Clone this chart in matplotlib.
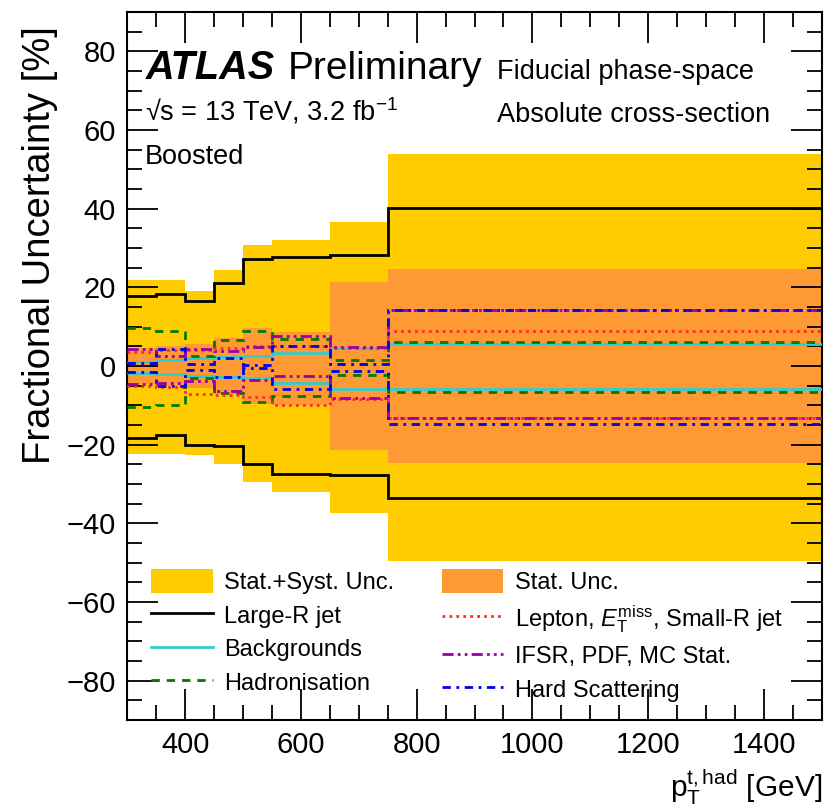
#Incertidumbre fraccional por fuente en funcion del pT del top hadronico
#librerias necesarias
import matplotlib
matplotlib.use("Agg")
import matplotlib.pyplot as plt #para graficar
from matplotlib.lines import Line2D
from matplotlib.patches import Patch
from matplotlib.ticker import MultipleLocator

#bordes de los bins en pT [GeV]
bordes = [300, 350, 400, 450, 500, 550, 650, 750, 1500]

#incertidumbre total (estadistica + sistematica) [%]
total_arriba = [21.8, 21.8, 19.1, 24.4, 30.8, 32.1, 36.5, 53.8]
total_abajo = [-22.3, -22.3, -22.7, -25.0, -29.5, -32.1, -37.5, -49.7]

#incertidumbre estadistica [%]
stat_arriba = [4.5, 5.0, 5.5, 7.2, 9.7, 8.6, 21.4, 24.7]
stat_abajo = [-4.5, -5.0, -5.5, -7.2, -9.7, -9.9, -21.4, -24.7]

#fuentes sistematicas, arriba y abajo [%]
largeR_arriba = [17.9, 18.3, 16.6, 21.1, 27.2, 27.7, 28.2, 40.3]
largeR_abajo = [-18.2, -17.6, -20.1, -20.4, -24.9, -27.5, -27.7, -33.5]
fondos_arriba = [0.9, 1.5, 2.1, 2.3, 2.6, 3.4, 4.6, 5.6]
fondos_abajo = [-1.8, -2.0, -2.6, -2.8, -3.1, -4.3, -5.8, -5.8]
hadron_arriba = [9.7, 9.0, 2.5, 6.5, 8.8, 6.8, 1.5, 6.2]
hadron_abajo = [-10.3, -9.8, -3.0, -6.9, -9.2, -7.5, -2.3, -6.5]
lepton_arriba = [3.6, 4.0, 4.0, 4.6, 5.1, 5.0, 4.6, 8.9]
lepton_abajo = [-5.2, -5.4, -7.1, -7.3, -7.9, -9.8, -8.3, -13.3]
ifsr_arriba = [4.3, 2.5, 4.3, 3.8, 4.9, 7.6, 4.8, 14.2]
ifsr_abajo = [-4.6, -4.2, -3.7, -6.3, -3.6, -2.6, -8.1, -13.3]
hard_arriba = [0.8, 4.4, 0.5, 2.0, 0.2, 5.0, 0.6, 14.2]
hard_abajo = [-1.5, -5.1, -1.0, -2.8, -0.4, -5.8, -1.2, -14.7]

#colores estilo ATLAS
amarillo = '#ffcc00'
naranja = '#ff9933'

def graficar():
    plt.rcParams['font.family'] = ['Liberation Sans', 'DejaVu Sans']
    plt.rcParams['mathtext.fontset'] = 'custom'
    plt.rcParams['mathtext.rm'] = 'Liberation Sans'
    plt.rcParams['mathtext.it'] = 'Liberation Sans:italic'
    plt.rcParams['mathtext.bf'] = 'Liberation Sans:bold'

    fig = plt.figure(figsize=(8.26, 8.08), dpi=100) #tamaño de la figura
    ax = fig.add_axes([0.154, 0.109, 0.841, 0.876])

    #bandas de incertidumbre
    ax.stairs(total_arriba, bordes, baseline=total_abajo, fill=True, color=amarillo, lw=0, zorder=1)
    ax.stairs(stat_arriba, bordes, baseline=stat_abajo, fill=True, color=naranja, lw=0, zorder=2)

    #lineas de cada fuente (arriba y abajo)
    estilos = [
        (largeR_arriba, largeR_abajo, dict(color='black', lw=2.0, ls='-')),
        (fondos_arriba, fondos_abajo, dict(color='#33cccc', lw=2.0, ls='-')),
        (hadron_arriba, hadron_abajo, dict(color='#007a00', lw=2.0, ls=(0, (3, 2.5)))),
        (lepton_arriba, lepton_abajo, dict(color='#ff2a2a', lw=2.0, ls=(0, (1, 1.5)))),
        (ifsr_arriba, ifsr_abajo, dict(color='#9900aa', lw=2.0, ls=(0, (4, 1.5, 1, 1.5, 1, 1.5)))),
        (hard_arriba, hard_abajo, dict(color='#0000ee', lw=2.0, ls=(0, (3, 2, 1, 2)))),
    ]
    z = 3
    for arriba, abajo, kw in estilos:
        ax.stairs(arriba, bordes, baseline=None, zorder=z, **kw)
        ax.stairs(abajo, bordes, baseline=None, zorder=z, **kw)
        z += 1

    #ejes
    ax.set_xlim(300, 1500)
    ax.set_ylim(-90, 90)
    ax.xaxis.set_major_locator(MultipleLocator(200))
    ax.xaxis.set_minor_locator(MultipleLocator(50))
    ax.yaxis.set_major_locator(MultipleLocator(20))
    ax.yaxis.set_minor_locator(MultipleLocator(5))
    ax.tick_params(which='both', direction='in', top=True, right=True, width=1.3, labelsize=21)
    ax.tick_params(which='major', length=22, pad=8)
    ax.tick_params(which='minor', length=11)
    for lado in ax.spines.values():
        lado.set_linewidth(1.5)
    ax.set_axisbelow(False)

    #titulos de los ejes
    fig.text(0.048, 0.697, 'Fractional Uncertainty [%]', rotation=90, fontsize=27.5, ha='center', va='center')
    ax.set_xlabel(r'$\mathrm{p}_{\mathrm{T}}^{\mathrm{t,had}}$ [GeV]', fontsize=21.5, loc='right', labelpad=6)

    #textos
    ax.text(0.027, 0.905, 'ATLAS', transform=ax.transAxes, fontsize=28.5, fontweight='bold', fontstyle='italic')
    ax.text(0.231, 0.905, 'Preliminary', transform=ax.transAxes, fontsize=28)
    ax.text(0.532, 0.905, 'Fiducial phase-space', transform=ax.transAxes, fontsize=19.5)
    ax.text(0.532, 0.845, 'Absolute cross-section', transform=ax.transAxes, fontsize=19.5)
    ax.text(0.025, 0.847, '√s = 13 TeV, 3.2 fb$^{-1}$', transform=ax.transAxes, fontsize=19.5)
    ax.text(0.025, 0.785, 'Boosted', transform=ax.transAxes, fontsize=19.5)

    #leyenda
    manejadores = [
        Patch(facecolor=amarillo, edgecolor='none'),
        Line2D([], [], **estilos[0][2]),
        Line2D([], [], **estilos[1][2]),
        Line2D([], [], **estilos[2][2]),
        Patch(facecolor=naranja, edgecolor='none'),
        Line2D([], [], **estilos[3][2]),
        Line2D([], [], **estilos[4][2]),
        Line2D([], [], **estilos[5][2]),
    ]
    etiquetas = [
        'Stat.+Syst. Unc.', 'Large-R jet', 'Backgrounds', 'Hadronisation',
        'Stat. Unc.', r'Lepton, $E_{\mathrm{T}}^{\mathrm{miss}}$, Small-R jet',
        'IFSR, PDF, MC Stat.', 'Hard Scattering',
    ]
    ax.legend(manejadores, etiquetas, ncol=2, loc='upper left', bbox_to_anchor=(0.021, 0.226),
              frameon=False, fontsize=17, handlelength=2.6, handleheight=1.15,
              labelspacing=0.38, columnspacing=2.0, handletextpad=0.5, borderaxespad=0)

    fig.savefig('out.png', dpi=100)

def main():
    graficar()

if __name__ == "__main__":
    main()
